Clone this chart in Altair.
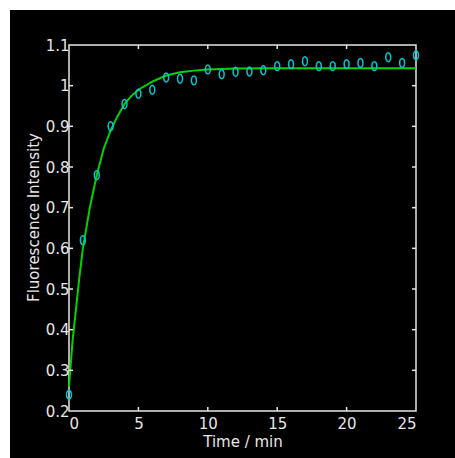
import altair as alt
import pandas as pd

# Measured data points (time in min, fluorescence intensity)
pts_t = [0, 1, 2, 3, 4, 5, 6, 7, 8, 9, 10, 11, 12, 13, 14, 15, 16, 17, 18, 19, 20, 21, 22, 23, 24, 25]
pts_y = [0.24, 0.62, 0.78, 0.90, 0.955, 0.98, 0.99, 1.02, 1.017, 1.013, 1.04, 1.028, 1.034, 1.035,
         1.038, 1.048, 1.053, 1.06, 1.048, 1.048, 1.053, 1.056, 1.048, 1.07, 1.056, 1.075]

# Fitted curve
curve_t = [0, 0.25, 0.5, 0.75, 1, 1.5, 2, 2.5, 3, 3.5, 4, 4.5, 5, 6, 7, 8, 9, 10, 12, 15, 20, 25]
curve_y = [0.26, 0.37, 0.45, 0.53, 0.60, 0.70, 0.78, 0.845, 0.89, 0.925, 0.955, 0.975, 0.99, 1.01,
           1.025, 1.033, 1.037, 1.04, 1.042, 1.043, 1.043, 1.043]

x_ticks = [0, 5, 10, 15, 20, 25]
y_ticks = [0.2, 0.3, 0.4, 0.5, 0.6, 0.7, 0.8, 0.9, 1.0, 1.1]
x_inner_ticks = [5, 10, 15, 20]
y_inner_ticks = [0.3, 0.4, 0.5, 0.6, 0.7, 0.8, 0.9, 1.0]

W, H = 347, 366
FONT = "DejaVu Sans"
FG = "#e6e6e6"

pts = pd.DataFrame({"t": pts_t, "y": pts_y})
curve = pd.DataFrame({"t": curve_t, "y": curve_y})
xt = pd.DataFrame({"t": x_inner_ticks})
yt = pd.DataFrame({"y": y_inner_ticks})

xs = alt.Scale(domain=[0, 25], nice=False, zero=False)
ys = alt.Scale(domain=[0.2, 1.1], nice=False, zero=False)

xaxis = alt.Axis(values=x_ticks, format="~g", grid=False, domain=False, ticks=False, tickSize=0,
                 labelColor=FG, labelFont=FONT, labelFontSize=15, labelPadding=5, zindex=1,
                 title="Time / min", titleColor=FG, titleFont=FONT, titleFontSize=15,
                 titleFontWeight="normal", titleY=30, titleBaseline="middle")
yaxis = alt.Axis(values=y_ticks, format="~g", grid=False, domain=False, ticks=False, tickSize=0,
                 labelColor=FG, labelFont=FONT, labelFontSize=15, labelPadding=0, zindex=1,
                 title="Fluorescence Intensity", titleColor=FG, titleFont=FONT, titleFontSize=15,
                 titleFontWeight="normal", titleX=-36, titleY=172, titleAngle=-90,
                 titleAlign="center", titleBaseline="middle")

# white strips at top and left of the black figure
strip = pd.DataFrame({"a": [0]})
top_strip = alt.Chart(strip).mark_rect(color="white").encode(
    x=alt.value(-69), x2=alt.value(W + 39), y=alt.value(-45), y2=alt.value(-35))
left_strip = alt.Chart(strip).mark_rect(color="white").encode(
    x=alt.value(-69), x2=alt.value(-59), y=alt.value(-45), y2=alt.value(H + 47))

line = alt.Chart(curve).mark_line(color="#00d400", strokeWidth=2).encode(
    x=alt.X("t:Q", scale=xs, axis=xaxis),
    y=alt.Y("y:Q", scale=ys, axis=yaxis),
)

ellipse = "M -0.55 0 A 0.55 1 0 1 0 0.55 0 A 0.55 1 0 1 0 -0.55 0 Z"
points = alt.Chart(pts).mark_point(shape=ellipse, size=80, color="#00c8d2", strokeWidth=1.5,
                                   filled=False, opacity=1).encode(
    x=alt.X("t:Q", scale=xs),
    y=alt.Y("y:Q", scale=ys),
)

tick_style = dict(color=FG, strokeWidth=1.5)
xb = alt.Chart(xt).mark_rule(**tick_style).encode(
    x=alt.X("t:Q", scale=xs), y=alt.value(H), y2=alt.value(H - 4))
xtop = alt.Chart(xt).mark_rule(**tick_style).encode(
    x=alt.X("t:Q", scale=xs), y=alt.value(0), y2=alt.value(4))
yl = alt.Chart(yt).mark_rule(**tick_style).encode(
    y=alt.Y("y:Q", scale=ys), x=alt.value(0), x2=alt.value(4))
yr = alt.Chart(yt).mark_rule(**tick_style).encode(
    y=alt.Y("y:Q", scale=ys), x=alt.value(W), x2=alt.value(W - 4))

chart = alt.layer(top_strip, left_strip, line, points, xb, xtop, yl, yr).properties(
    width=W, height=H,
    autosize=alt.AutoSizeParams(type="none"),
    padding={"left": 69, "top": 45, "right": 39, "bottom": 47},
    background="black",
).configure_view(stroke=FG, strokeWidth=1.5)

chart.save("out.html", embed_options={"renderer": "svg", "actions": False})
